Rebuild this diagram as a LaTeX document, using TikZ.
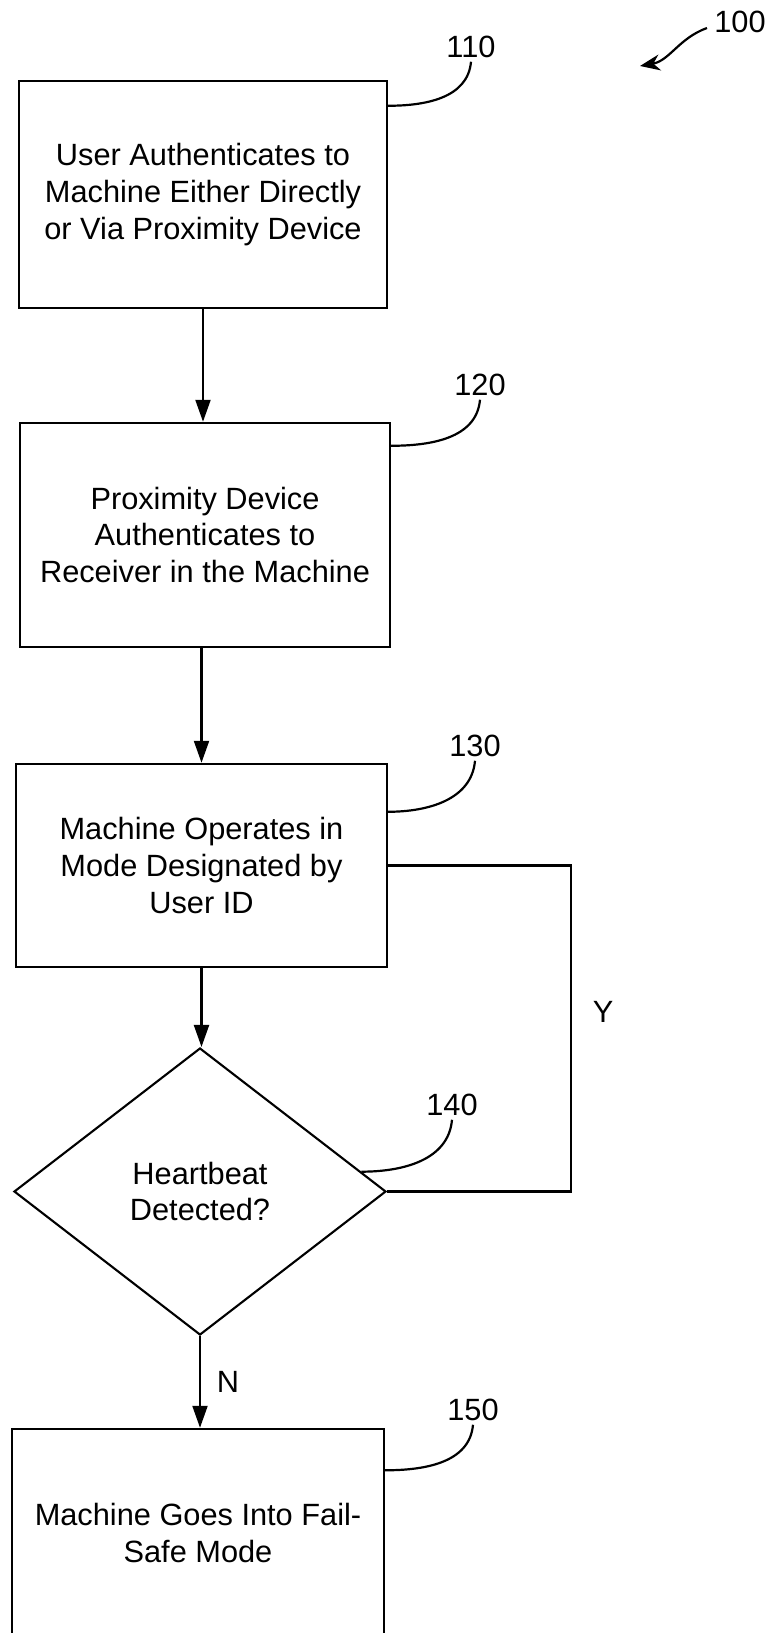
\documentclass[tikz,border=0pt]{standalone}
\usepackage{fontspec}
\setmainfont{Liberation Sans}
\usetikzlibrary{shapes.geometric,arrows.meta,positioning}

\begin{document}
\begin{tikzpicture}[
    stepbox/.style={draw, line width=1.4pt, align=center, inner sep=0pt, font=\fontsize{17.5}{21}\selectfont},
    decision/.style={diamond, draw, line width=1.2pt, align=center, inner sep=0pt, font=\fontsize{17.5}{21}\selectfont},
    refnum/.style={inner sep=2pt, font=\fontsize{17.5}{20}\selectfont},
    flow/.style={line width=1.25pt, -{Triangle[length=0.44cm,width=0.3cm]}},
    leader/.style={line width=1.25pt}]
    \useasboundingbox (0,0) rectangle (15.36,-32.66);
    \node[stepbox, minimum width=7.36cm, minimum height=4.54cm] (b110) at (4.06,-3.89) {User Authenticates to\\Machine Either Directly\\or Via Proximity Device};
    \node[stepbox, minimum width=7.40cm, minimum height=4.48cm] (b120) at (4.10,-10.70) {Proximity Device\\Authenticates to\\Receiver in the Machine};
    \node[stepbox, minimum width=7.42cm, minimum height=4.06cm] (b130) at (4.03,-17.31) {Machine Operates in\\Mode Designated by\\User ID};
    \node[decision, minimum width=7.44cm, minimum height=5.74cm] (d140) at (4.00,-23.83) {Heartbeat\\Detected?};
    \node[stepbox, minimum width=7.44cm, minimum height=4.16cm] (b150) at (3.96,-30.66) {Machine Goes Into Fail-\\Safe Mode};
    \node[refnum] (l100) at (14.80,-0.44) {100};
    \node[refnum] (l110) at (9.42,-0.94) {110};
    \node[refnum] (l120) at (9.60,-7.70) {120};
    \node[refnum] (l130) at (9.50,-14.92) {130};
    \node[refnum] (l140) at (9.04,-22.10) {140};
    \node[refnum] (l150) at (9.46,-28.20) {150};
    \coordinate (c100) at (12.80,-1.32);
    \coordinate (yloop) at (11.42,0);
    \draw[flow] (b110.south) -- (b110.south |- b120.north);
    \draw[flow] (b120.south -| b130.north) -- (b130.north);
    \draw[flow] (b130.south) -- (b130.south |- d140.north);
    \draw[flow] (d140.south) -- (d140.south |- b150.north) node[midway, right=0.2cm, font=\fontsize{17.5}{20}\selectfont] {N};
    \draw[leader] (d140.east) -- (d140.east -| yloop) -- node[pos=0.55, right=0.3cm, font=\fontsize{17.5}{20}\selectfont] {Y} (b130.east -| yloop) -- (b130.east);
    \draw[leader] (l110.south) to[out=-95,in=0] ([yshift=-0.52cm]b110.north east);
    \draw[leader] (l120.south) to[out=-95,in=0] ([yshift=-0.48cm]b120.north east);
    \draw[leader] (l130.south) to[out=-95,in=0] ([yshift=-0.98cm]b130.north east);
    \draw[leader] (l140.south) to[out=-95,in=0] (d140.7);
    \draw[leader] (l150.south) to[out=-95,in=0] ([yshift=-0.85cm]b150.north east);
    \draw[leader, -{Stealth[length=0.4cm,width=0.32cm]}] ([xshift=-0.07cm,yshift=-0.12cm]l100.west) to[out=-160,in=10] (c100);
\end{tikzpicture}
\end{document}
